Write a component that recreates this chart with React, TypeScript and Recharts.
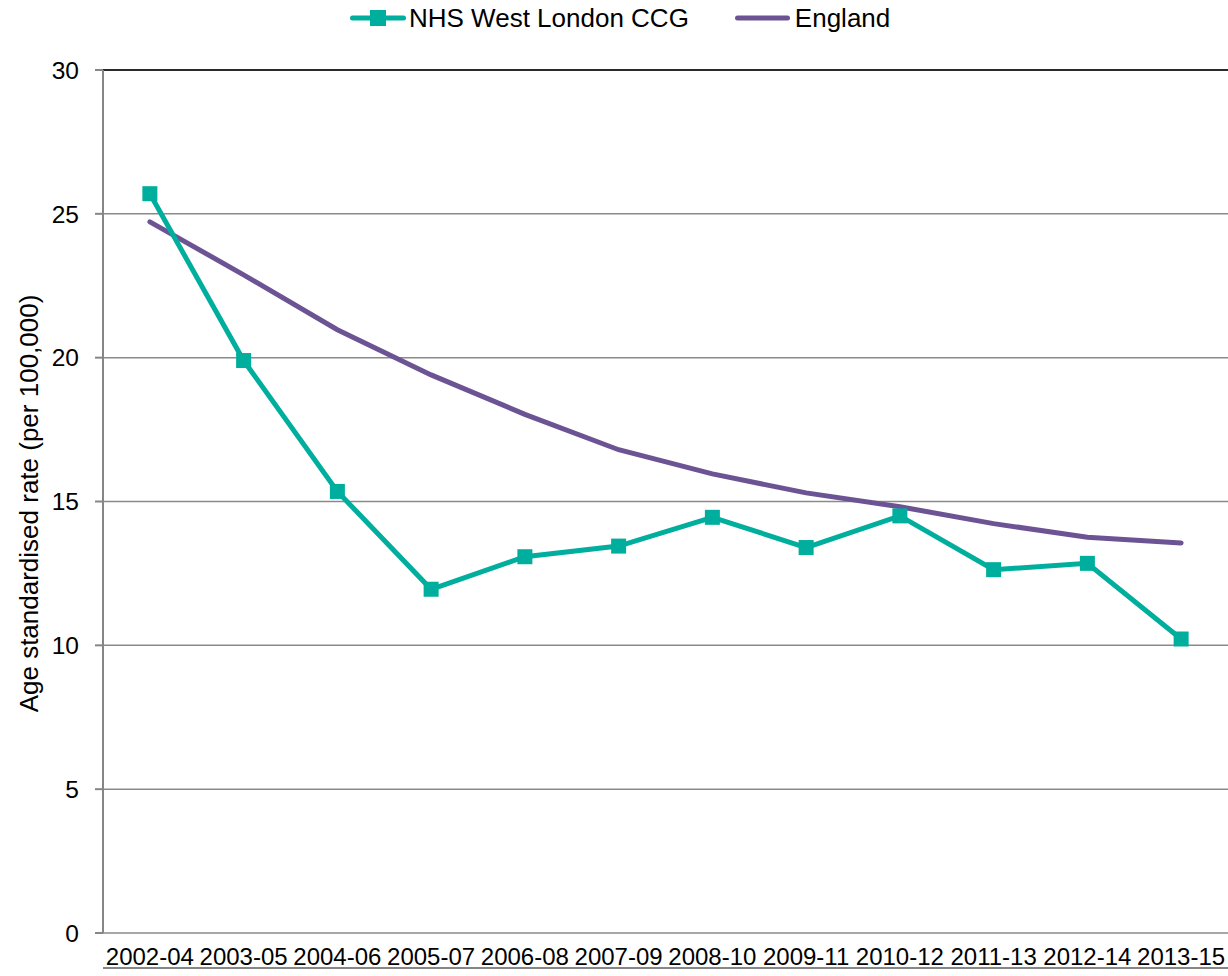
import React from 'react'
import { LineChart, Line, XAxis, YAxis, CartesianGrid, ReferenceLine } from 'recharts'

const periods = ['2002-04', '2003-05', '2004-06', '2005-07', '2006-08', '2007-09', '2008-10', '2009-11', '2010-12', '2011-13', '2012-14', '2013-15']
const westLondon = [25.7, 19.9, 15.35, 11.95, 13.08, 13.45, 14.45, 13.4, 14.5, 12.63, 12.85, 10.22]
const england = [24.72, 22.88, 20.97, 19.4, 18.03, 16.8, 15.96, 15.3, 14.82, 14.23, 13.76, 13.56]
const yTicks = [0, 5, 10, 15, 20, 25, 30]
const boundaryTicks = [0, 1, 2, 3, 4, 5, 6, 7, 8, 9, 10, 11, 12]
const labelTicks = [0.5, 1.5, 2.5, 3.5, 4.5, 5.5, 6.5, 7.5, 8.5, 9.5, 10.5, 11.5]

const TEAL = '#00AE9D'
const PURPLE = '#6C5494'
const FONT = '"Liberation Sans", Arial, sans-serif'

// x is the middle of each category band, so the tick marks sit between categories
const data = periods.map((p, i) => ({ x: i + 0.5, period: p, west: westLondon[i], eng: england[i] }))

const SquareDot = (props: any) => {
  const { cx, cy } = props
  if (cx == null || cy == null) return null
  return <rect x={cx - 7.5} y={cy - 7.5} width={15} height={15} fill={TEAL} />
}

const YLabel = ({ viewBox }: any) => {
  const cx = viewBox.x + 29
  const cy = viewBox.y + viewBox.height / 2 + 2
  return (
    <text x={cx} y={cy} transform={`rotate(-90 ${cx} ${cy})`} textAnchor='middle' dominantBaseline='central'
      fontSize={26} fontFamily={FONT} fill='#000'>
      Age standardised rate (per 100,000)
    </text>
  )
}

const LegendBar = () => (
  <div style={{ position: 'absolute', top: 3, left: 350, display: 'flex', alignItems: 'center', fontFamily: FONT, fontSize: 26, color: '#000', lineHeight: '30px' }}>
    <svg width={56} height={20} style={{ marginRight: 3 }}>
      <line x1={2.5} y1={10} x2={53.5} y2={10} stroke={TEAL} strokeWidth={5} strokeLinecap='round' />
      <rect x={20} y={2} width={16} height={16} fill={TEAL} />
    </svg>
    <span>NHS West London CCG</span>
    <svg width={55} height={20} style={{ marginLeft: 46, marginRight: 5 }}>
      <line x1={2.5} y1={10} x2={52.5} y2={10} stroke={PURPLE} strokeWidth={5} strokeLinecap='round' />
    </svg>
    <span>England</span>
  </div>
)

export default function App() {
  return (
    <div style={{ position: 'absolute', left: 0, top: 0, width: 1228, height: 976, background: '#fff' }}>
      <LegendBar />
      <LineChart width={1228} height={976} data={data} margin={{ top: 70, right: 0, bottom: 0, left: 0 }}>
        <CartesianGrid vertical={false} stroke='#8A8A8A' strokeWidth={1.5} xAxisId='tk' />
        <XAxis xAxisId='tk' dataKey='x' type='number' domain={[0, 12]} allowDataOverflow ticks={boundaryTicks}
          tick={false} tickSize={6} height={8} stroke='#868686' strokeWidth={2} />
        <XAxis xAxisId='lbl' dataKey='x' type='number' domain={[0, 12]} allowDataOverflow ticks={labelTicks}
          tickFormatter={(v: number) => periods[Math.floor(v)]} axisLine={false} tickLine={false}
          tickSize={0} tickMargin={15} height={35} interval={0}
          tick={{ fontSize: 24, fontFamily: FONT, fill: '#000' }} />
        <YAxis domain={[0, 30]} ticks={yTicks} width={103} tickSize={8} tickMargin={16}
          stroke='#868686' strokeWidth={2} interval={0}
          tick={{ fontSize: 24.5, fontFamily: FONT, fill: '#000' }}
          label={<YLabel />} />
        <ReferenceLine xAxisId='tk' y={30} stroke='#000' strokeWidth={1.5} />
        <Line xAxisId='lbl' dataKey='eng' stroke={PURPLE} strokeWidth={5} strokeLinecap='round' dot={false}
          type='linear' isAnimationActive={false} />
        <Line xAxisId='lbl' dataKey='west' stroke={TEAL} strokeWidth={5} dot={<SquareDot />} activeDot={false}
          type='linear' isAnimationActive={false} />
      </LineChart>
    </div>
  )
}
